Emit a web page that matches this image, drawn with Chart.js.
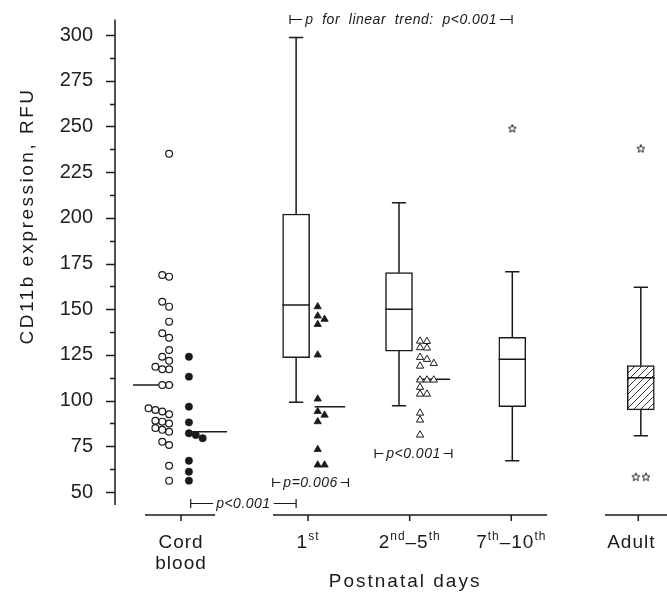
<!DOCTYPE html>
<html lang="en">
<head>
<meta charset="UTF-8">
<title>CD11b expression by postnatal age</title>
<script src="https://cdn.jsdelivr.net/npm/chart.js"></script>
<style>
  html, body { margin: 0; padding: 0; background: #fff; }
  canvas { display: block; }
</style>
</head>
<body>
<canvas id="grafico" width="667" height="597"></canvas>
<script>
// ---- data ----
const categories = ['Cord|blood', '1{st}', '2{nd}–5{th}', '7{th}–10{th}', 'Adult'];
const catPos = [0, 5, 9, 13, 18];          // x position of each group on the axis
const yTicks = [50, 75, 100, 125, 150, 175, 200, 225, 250, 275, 300];

// individual values (RFU)
const cordOpen = [56.2, 64.4, 75.7, 77.5, 83, 84, 85, 87.5, 88.5, 89, 92.5, 94.0, 94.9, 95.8,
                  108.5, 108.5, 117.1, 117.1, 118.5, 121.8, 124, 127.7, 134.4, 136.8, 143.2,
                  151.4, 154.1, 167.8, 168.7, 235];
const cordFilled = [124, 113.1, 96.7, 88.1, 82.1, 81.2, 79.4, 67.1, 61.1, 56.2];
const day1 = [151.4, 146.3, 144.5, 141.7, 125, 100.9, 94.1, 92.1, 88.5, 73.3, 64.8, 64.8];
const day2to5 = [132.6, 132.4, 129.0, 128.8, 123.7, 122.6, 120.4, 118.9, 111.3, 111.3, 111.3,
                 107.3, 103.6, 103.6, 93.2, 89.4, 81.2];
const groupMedians = [108.5, 83.0, 96.7, 111.7];   // cord open, cord filled, 1st, 2nd-5th

// box plots: 1st, 2nd–5th, 7th–10th, Adult
const boxMin = [99.1, 97.2, 67.1, 80.8];
const boxQ1  = [123.5, 127.1, 96.7, 94.9];
const boxMed = [152.3, 150.0, 122.6, 112.5];
const boxQ3  = [202.1, 170.0, 134.6, 119.1];
const boxMax = [298.7, 208.3, 170.5, 162.0];
const outliers = [[], [], [249], [238, 58.4, 58.4]];

const tests = [
  { from: 4.29, to: 13.03, y: 308.8, text: 'p  for  linear  trend:  p<0.001' },
  { from: 3.61, to: 6.59, y: 55.6, text: 'p=0.006' },
  { from: 0.38, to: 4.53, y: 44.2, text: 'p<0.001' },
  { from: 7.64, to: 10.66, y: 71.2, text: 'p<0.001' }
];

// ---- layout ----
const INK = '#1a1a1a';
const FONT = "'Liberation Sans', Arial, sans-serif";
const LANE = 0.27;             // horizontal step between touching dots
const boxX = [catPos[1] - 0.47, catPos[2] - 0.42, catPos[3] + 0.04, catPos[4] + 0.1];
const BOX_HALF = 0.54, CAP_HALF = 0.28;
const axisBreaks = [[-1.42, 1.34], [3.62, 14.41], [16.69, 19.2]];

function lanes(values, d) {
  const placed = [];
  return values.map(v => {
    let k = 0;
    while (placed[k] && placed[k].some(u => Math.abs(u - v) < d)) k++;
    (placed[k] = placed[k] || []).push(v);
    return k;
  });
}
function dots(values, x0, step) {
  const ln = lanes(values, 3.5);
  return values.map((v, i) => ({ x: x0 + ln[i] * step, y: v }));
}
function outlierDots() {
  const pts = [];
  outliers.forEach((vals, i) => {
    const ln = lanes(vals, 3.5);
    vals.forEach((v, j) => {
      const n = vals.filter(u => Math.abs(u - v) < 3.5).length;
      pts.push({ x: boxX[i] - 0.2 * (n - 1) + 0.4 * ln[j], y: v });
    });
  });
  return pts;
}

// whiskers, caps and medians as broken line segments
function boxLines() {
  const pts = [];
  const seg = (x1, y1, x2, y2) => pts.push({ x: x1, y: y1 }, { x: x2, y: y2 }, { x: x2, y: null });
  boxX.forEach((cx, i) => {
    seg(cx, boxQ3[i], cx, boxMax[i]);
    seg(cx - CAP_HALF, boxMax[i], cx + CAP_HALF, boxMax[i]);
    seg(cx, boxQ1[i], cx, boxMin[i]);
    seg(cx - CAP_HALF, boxMin[i], cx + CAP_HALF, boxMin[i]);
    seg(cx - BOX_HALF, boxMed[i], cx + BOX_HALF, boxMed[i]);
  });
  const medSpan = [[catPos[0] - 1.89, catPos[0] - 0.3], [catPos[0] + 0.35, catPos[0] + 1.81],
                   [catPos[1] + 0.26, catPos[1] + 1.46], [catPos[2] + 0.28, catPos[2] + 1.59]];
  medSpan.forEach((s, i) => seg(s[0], groupMedians[i], s[1], groupMedians[i]));
  return pts;
}

function makeStar(size) {
  const c = document.createElement('canvas');
  c.width = c.height = size;
  const g = c.getContext('2d');
  const R = size / 2 - 0.8, r = R * 0.45;
  g.beginPath();
  for (let i = 0; i < 10; i++) {
    const a = -Math.PI / 2 + i * Math.PI / 5;
    const rr = i % 2 ? r : R;
    g.lineTo(size / 2 + rr * Math.cos(a), size / 2 + 0.5 + rr * Math.sin(a));
  }
  g.closePath();
  g.strokeStyle = INK; g.lineWidth = 1; g.stroke();
  return c;
}
function makeHatch() {
  const c = document.createElement('canvas');
  c.width = c.height = 7;
  const g = c.getContext('2d');
  g.fillStyle = '#fff'; g.fillRect(0, 0, 7, 7);
  g.strokeStyle = '#333'; g.lineWidth = 1;
  g.beginPath();
  g.moveTo(-1, 8); g.lineTo(8, -1);
  g.moveTo(-1, 1); g.lineTo(1, -1);
  g.moveTo(6, 8); g.lineTo(8, 6);
  g.stroke();
  return g.createPattern(c, 'repeat');
}

function drawRich(ctx, str, cx, y, size) {
  const parts = [];
  str.replace(/\{([^}]*)\}|([^{]+)/g, (m, sup, txt) => { parts.push(sup ? { t: sup, s: true } : { t: txt, s: false }); });
  const big = size + 'px ' + FONT, small = Math.round(size * 0.62) + 'px ' + FONT;
  let w = 0;
  parts.forEach(p => { ctx.font = p.s ? small : big; p.w = ctx.measureText(p.t).width; w += p.w; });
  let x = cx - w / 2;
  ctx.textAlign = 'left';
  parts.forEach(p => {
    ctx.font = p.s ? small : big;
    ctx.fillText(p.t, x, p.s ? y - size * 0.42 : y);
    x += p.w;
  });
}

const decor = {
  id: 'decor',
  afterDraw(chart) {
    const { ctx, chartArea: a, scales: { x, y } } = chart;
    ctx.save();
    ctx.strokeStyle = INK; ctx.fillStyle = INK; ctx.lineWidth = 1.5;
    // y axis with major and minor ticks
    ctx.beginPath();
    ctx.moveTo(a.left, y.getPixelForValue(308.5));
    ctx.lineTo(a.left, y.getPixelForValue(42.9));
    yTicks.forEach((v, i) => {
      const py = Math.round(y.getPixelForValue(v)) + 0.5;
      ctx.moveTo(a.left - 9, py); ctx.lineTo(a.left, py);
      if (i < yTicks.length - 1) {
        const pm = Math.round(y.getPixelForValue(v + 12.5)) + 0.5;
        ctx.moveTo(a.left - 5, pm); ctx.lineTo(a.left, pm);
      }
    });
    // broken x axis
    const by = a.bottom;
    axisBreaks.forEach(b => { ctx.moveTo(x.getPixelForValue(b[0]), by); ctx.lineTo(x.getPixelForValue(b[1]), by); });
    catPos.forEach(c => { const px = x.getPixelForValue(c); ctx.moveTo(px, by); ctx.lineTo(px, by + 6); });
    ctx.stroke();

    // category labels
    ctx.textBaseline = 'alphabetic';
    ctx.letterSpacing = '1px';
    categories.forEach((lab, i) => {
      const px = x.getPixelForValue(catPos[i]) - (i === 4 ? 7 : 0);
      lab.split('|').forEach((line, k) => drawRich(ctx, line, px, 548 + k * 21, 19));
    });
    // axis titles
    ctx.letterSpacing = '2px';
    ctx.font = '19px ' + FONT;
    ctx.textAlign = 'center';
    ctx.fillText('Postnatal days', x.getPixelForValue(8.82), 587);
    ctx.save();
    ctx.translate(33, 216);
    ctx.rotate(-Math.PI / 2);
    ctx.letterSpacing = '2.5px';
    ctx.fillText('CD11b expression, RFU', 0, 0);
    ctx.restore();

    // significance brackets
    ctx.letterSpacing = '0.5px';
    ctx.font = 'italic 14px ' + FONT;
    ctx.textBaseline = 'middle';
    ctx.lineWidth = 1.2;
    tests.forEach(t => {
      const x1 = x.getPixelForValue(t.from), x2 = x.getPixelForValue(t.to);
      const py = Math.round(y.getPixelForValue(t.y)) + 0.5;
      const mid = (x1 + x2) / 2, w = ctx.measureText(t.text).width;
      ctx.beginPath();
      ctx.moveTo(x1, py - 4.5); ctx.lineTo(x1, py + 4.5);
      ctx.moveTo(x2, py - 4.5); ctx.lineTo(x2, py + 4.5);
      ctx.moveTo(x1, py); ctx.lineTo(mid - w / 2 - 3, py);
      ctx.moveTo(mid + w / 2 + 3, py); ctx.lineTo(x2, py);
      ctx.stroke();
      ctx.fillText(t.text, mid, py + 1);
    });
    ctx.restore();
  }
};

const noPad = s => { s.paddingTop = s.paddingBottom = s.paddingLeft = s.paddingRight = 0; };

const star = makeStar(10);
const ctx = document.getElementById('grafico').getContext('2d');
new Chart(ctx, {
  type: 'bar',
  data: {
    datasets: [
      {
        type: 'bar',
        label: 'boxes',
        data: boxX.map((bx, i) => ({ x: bx, y: [boxQ1[i], boxQ3[i]] })),
        backgroundColor: ['#fff', '#fff', '#fff', makeHatch()],
        borderColor: INK,
        borderWidth: 1.5,
        borderSkipped: false,
        barThickness: 27,
        grouped: false,
        order: 4
      },
      {
        type: 'line',
        label: 'whiskers',
        data: boxLines(),
        borderColor: INK,
        borderWidth: 1.5,
        pointRadius: 0,
        spanGaps: false,
        tension: 0,
        order: 3
      },
      {
        type: 'scatter', label: 'cord open', data: dots(cordOpen, catPos[0] - 0.47, -LANE),
        pointStyle: 'circle', pointRadius: 3.4, borderWidth: 1.2,
        borderColor: INK, backgroundColor: '#fff', order: 1
      },
      {
        type: 'scatter', label: 'cord filled', data: dots(cordFilled, catPos[0] + 0.31, LANE),
        pointStyle: 'circle', pointRadius: 3.7, borderWidth: 0.5,
        borderColor: INK, backgroundColor: INK, order: 1
      },
      {
        type: 'scatter', label: '1st', data: dots(day1, catPos[1] + 0.38, LANE),
        pointStyle: 'triangle', pointRadius: 4.2, borderWidth: 0.8,
        borderColor: INK, backgroundColor: INK, order: 1
      },
      {
        type: 'scatter', label: '2nd-5th', data: dots(day2to5, catPos[2] + 0.41, LANE),
        pointStyle: 'triangle', pointRadius: 4.2, borderWidth: 1,
        borderColor: INK, backgroundColor: '#fff', order: 1
      },
      {
        type: 'scatter', label: 'outliers', data: outlierDots(),
        pointStyle: star, order: 1
      }
    ]
  },
  options: {
    responsive: false,
    animation: false,
    devicePixelRatio: 1,
    layout: { autoPadding: false, padding: { top: 18, bottom: 82, left: 0, right: 0 } },
    plugins: { legend: { display: false }, tooltip: { enabled: false } },
    scales: {
      x: { type: 'linear', min: -2.6, max: 19.13, offset: false, display: false, afterFit: noPad },
      y: {
        type: 'linear', min: 37.42, max: 309.3,
        afterFit: s => { s.width = 115; noPad(s); },
        afterBuildTicks: s => { s.ticks = yTicks.map(v => ({ value: v })); },
        grid: { display: false, drawTicks: false },
        border: { display: false },
        ticks: { padding: 22, color: '#222', font: { family: FONT, size: 20 } }
      }
    }
  },
  plugins: [decor]
});
</script>
</body>
</html>
